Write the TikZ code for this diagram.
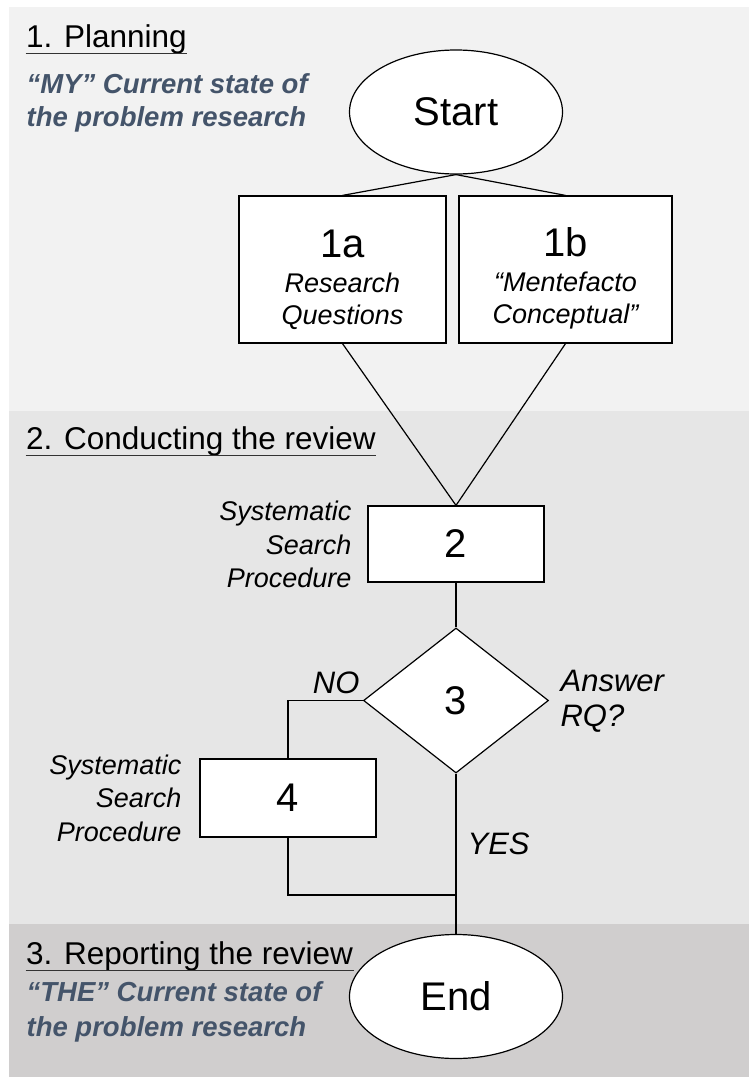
\documentclass[tikz,border=0pt]{standalone}
\usepackage{fontspec}
\setmainfont{Liberation Sans}
\usetikzlibrary{shapes.geometric}
\definecolor{bandA}{HTML}{F2F2F2}
\definecolor{bandB}{HTML}{E6E6E6}
\definecolor{bandC}{HTML}{D0CECE}
\definecolor{slate}{HTML}{44546A}
\begin{document}
\begin{tikzpicture}[x=1pt,y=-1pt,line width=1.2pt,
  terminal/.style={draw,ellipse,fill=white,inner sep=0pt,minimum width=213pt,minimum height=124pt,font=\fontsize{40}{40}\selectfont},
  task/.style={draw,rectangle,fill=white,inner sep=0pt,font=\fontsize{40}{40}\selectfont},
  plan/.style={task,align=center,minimum height=147pt,font=\fontsize{27}{32}\selectfont\itshape},
  decision/.style={draw,diamond,fill=white,inner sep=0pt,minimum width=185pt,minimum height=145pt,font=\fontsize{40}{40}\selectfont},
  heading/.style={inner sep=0pt,anchor=base west,font=\fontsize{31.5}{34}\selectfont},
  note/.style={inner sep=0pt,anchor=north west,align=left,text=slate,font=\fontsize{27.5}{33}\selectfont\bfseries\itshape},
  side/.style={inner sep=0pt,anchor=east,align=right,font=\fontsize{27}{33.5}\selectfont\itshape},
  answer/.style={inner sep=0pt,font=\fontsize{31}{35}\selectfont\itshape}]
\useasboundingbox (0,0) rectangle (749,1079);
% phases
  \fill[bandA] (9,7) rectangle (749,411);
  \fill[bandB] (9,411) rectangle (749,924);
  \fill[bandC] (9,924) rectangle (749,1077);
  \node[heading] (h1) at (25.5,47.5) {1. Planning};
  \node[heading] (h2) at (25.5,449.5) {2. Conducting the review};
  \node[heading] (h3) at (25.5,964.5) {3. Reporting the review};
  \foreach \h in {h1,h2,h3}
    \draw[black!80] ([yshift=-6pt]\h.base west) -- ([yshift=-6pt]\h.base east);
  \node[note] (mine) at (26,73) {“MY” Current state of\\the problem research};
  \node[note,font=\fontsize{27.5}{35}\selectfont\bfseries\itshape] (theirs) at (26,981)
    {“THE” Current state of\\the problem research};
% flow
  \node[terminal] (start) at (456,112) {Start};
  \node[plan,minimum width=207pt] (b1a) at (342.5,269.5)
    {{\upshape\fontsize{40}{40}\selectfont\rule{0pt}{47.5pt}1a}\\[3pt]Research\\Questions};
  \node[plan,minimum width=213pt] (b1b) at (565.5,269.5)
    {{\upshape\fontsize{40}{40}\selectfont\rule{0pt}{47.5pt}1b}\\[3pt]“Mentefacto\\Conceptual”};
  \node[task,minimum width=176pt,minimum height=76pt] (b2) at (456,544) {2};
  \node[decision] (d3) at (456,700.5) {3};
  \node[task,minimum width=176pt,minimum height=78pt] (b4) at (288,798) {4};
  \node[terminal] (end) at (456,996.5) {End};
  \coordinate (join) at (456,895);
% labels
  \node[side] (sp2) at (352,544.5) {Systematic\\Search\\Procedure};
  \node[side] (sp4) at (182,798) {Systematic\\Search\\Procedure};
  \node[answer,anchor=east] (no) at (360,683) {NO};
  \node[answer,anchor=west,align=left] (rq) at (560,701) {Answer\\RQ?};
  \node[answer,anchor=west] (yes) at (467,844) {YES};
% connectors
  \draw (start.south) -- (b1a.north);
  \draw (start.south) -- (b1b.north);
  \draw (b1a.south) -- (b2.north);
  \draw (b1b.south) -- (b2.north);
  \draw (b2.south) -- (d3.north);
  \draw (d3.west) -| (b4.north);
  \draw (d3.south) -- (end.north);
  \draw (b4.south) |- (join);
\end{tikzpicture}
\end{document}
